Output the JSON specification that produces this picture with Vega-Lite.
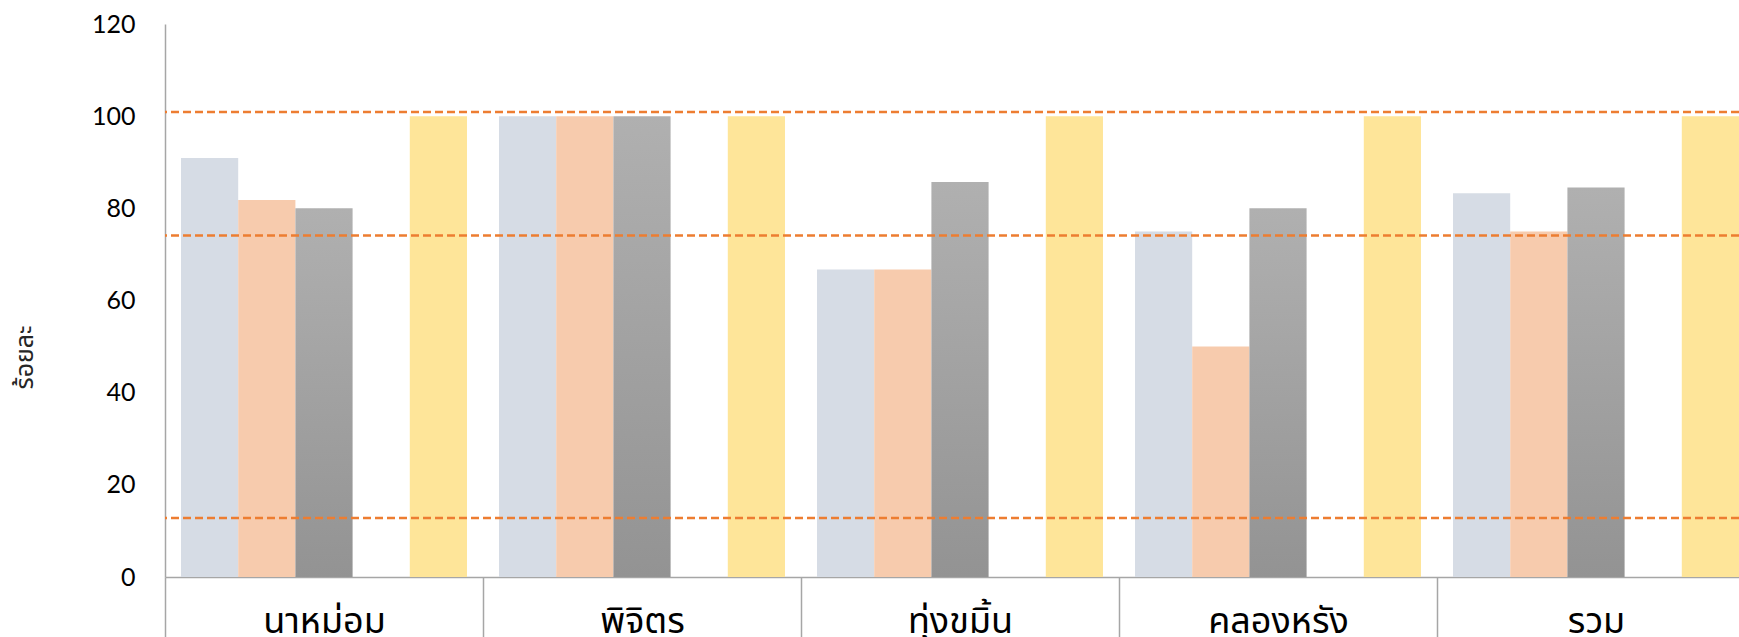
{
  "$schema": "https://vega.github.io/schema/vega-lite/v6.json",
  "width": 1574,
  "height": 553,
  "autosize": {"type": "none"},
  "padding": {"left": 165, "top": 24, "right": 0, "bottom": 60},
  "background": "white",
  "config": {
    "view": {"stroke": null},
    "font": "Lato"
  },
  "datasets": {
    "bars": [
      {"area": "นาหม่อม", "series": "s1", "value": 90.9},
      {"area": "นาหม่อม", "series": "s2", "value": 81.8},
      {"area": "นาหม่อม", "series": "s3", "value": 80.0},
      {"area": "นาหม่อม", "series": "s5", "value": 100},
      {"area": "พิจิตร", "series": "s1", "value": 100},
      {"area": "พิจิตร", "series": "s2", "value": 100},
      {"area": "พิจิตร", "series": "s3", "value": 100},
      {"area": "พิจิตร", "series": "s5", "value": 100},
      {"area": "ทุ่งขมิ้น", "series": "s1", "value": 66.7},
      {"area": "ทุ่งขมิ้น", "series": "s2", "value": 66.7},
      {"area": "ทุ่งขมิ้น", "series": "s3", "value": 85.7},
      {"area": "ทุ่งขมิ้น", "series": "s5", "value": 100},
      {"area": "คลองหรัง", "series": "s1", "value": 75.0},
      {"area": "คลองหรัง", "series": "s2", "value": 50.0},
      {"area": "คลองหรัง", "series": "s3", "value": 80.0},
      {"area": "คลองหรัง", "series": "s5", "value": 100},
      {"area": "รวม", "series": "s1", "value": 83.3},
      {"area": "รวม", "series": "s2", "value": 75.0},
      {"area": "รวม", "series": "s3", "value": 84.5},
      {"area": "รวม", "series": "s5", "value": 100}
    ],
    "refs": [
      {"value": 100.9},
      {"value": 74.1},
      {"value": 12.8}
    ]
  },
  "layer": [
    {
      "data": {"name": "bars"},
      "transform": [{"filter": "datum.series !== 's3'"}],
      "mark": {"type": "bar"},
      "encoding": {
        "x": {
          "field": "area",
          "type": "nominal",
          "sort": null,
          "scale": {"range": [0, 1590], "paddingInner": 0, "paddingOuter": 0},
          "axis": {
            "title": null,
            "labelAngle": 0,
            "labelFont": "Noto Sans Thai, Noto Sans, sans-serif",
            "labelFontSize": 36,
            "labelColor": "#000000",
            "labelBaseline": "alphabetic",
            "labelPadding": -7,
            "tickBand": "extent",
            "tickSize": 62,
            "tickColor": "#a6a6a6",
            "tickWidth": 1.5,
            "domainColor": "#a6a6a6",
            "domainWidth": 1.5
          }
        },
        "xOffset": {
          "field": "series",
          "type": "nominal",
          "scale": {"domain": ["s1", "s2", "s3", "s4", "s5"], "paddingInner": 0, "paddingOuter": 0.28}
        },
        "y": {
          "field": "value",
          "type": "quantitative",
          "scale": {"domain": [0, 120], "nice": false},
          "axis": {
            "title": "ร้อยละ",
            "titleFont": "Noto Sans Thai, Noto Sans, sans-serif",
            "titleFontSize": 25,
            "titleFontWeight": "normal",
            "titleColor": "#262626",
            "titleX": -141,
            "titleY": 333,
            "titleAngle": -90,
            "titleAlign": "center",
            "titleBaseline": "middle",
            "values": [0, 20, 40, 60, 80, 100, 120],
            "grid": false,
            "ticks": false,
            "labelPadding": 30,
            "labelFontSize": 25,
            "labelColor": "#000000",
            "domainColor": "#a6a6a6",
            "domainWidth": 1.5
          }
        },
        "color": {
          "field": "series",
          "type": "nominal",
          "scale": {"domain": ["s1", "s2", "s5"], "range": ["#d6dce5", "#f7cbad", "#fee599"]},
          "legend": null
        }
      }
    },
    {
      "data": {"name": "bars"},
      "transform": [{"filter": "datum.series === 's3'"}],
      "mark": {
        "type": "bar",
        "color": {
          "gradient": "linear",
          "x1": 0, "y1": 0, "x2": 0, "y2": 1,
          "stops": [
            {"offset": 0, "color": "#b0b0b0"},
            {"offset": 1, "color": "#939393"}
          ]
        }
      },
      "encoding": {
        "x": {"field": "area", "type": "nominal", "sort": null},
        "xOffset": {"field": "series", "type": "nominal"},
        "y": {"field": "value", "type": "quantitative"}
      }
    },
    {
      "data": {"name": "refs"},
      "mark": {"type": "rule", "color": "#ed7d31", "strokeWidth": 2.5, "strokeDash": [8, 4]},
      "encoding": {
        "y": {"field": "value", "type": "quantitative"}
      }
    }
  ]
}
